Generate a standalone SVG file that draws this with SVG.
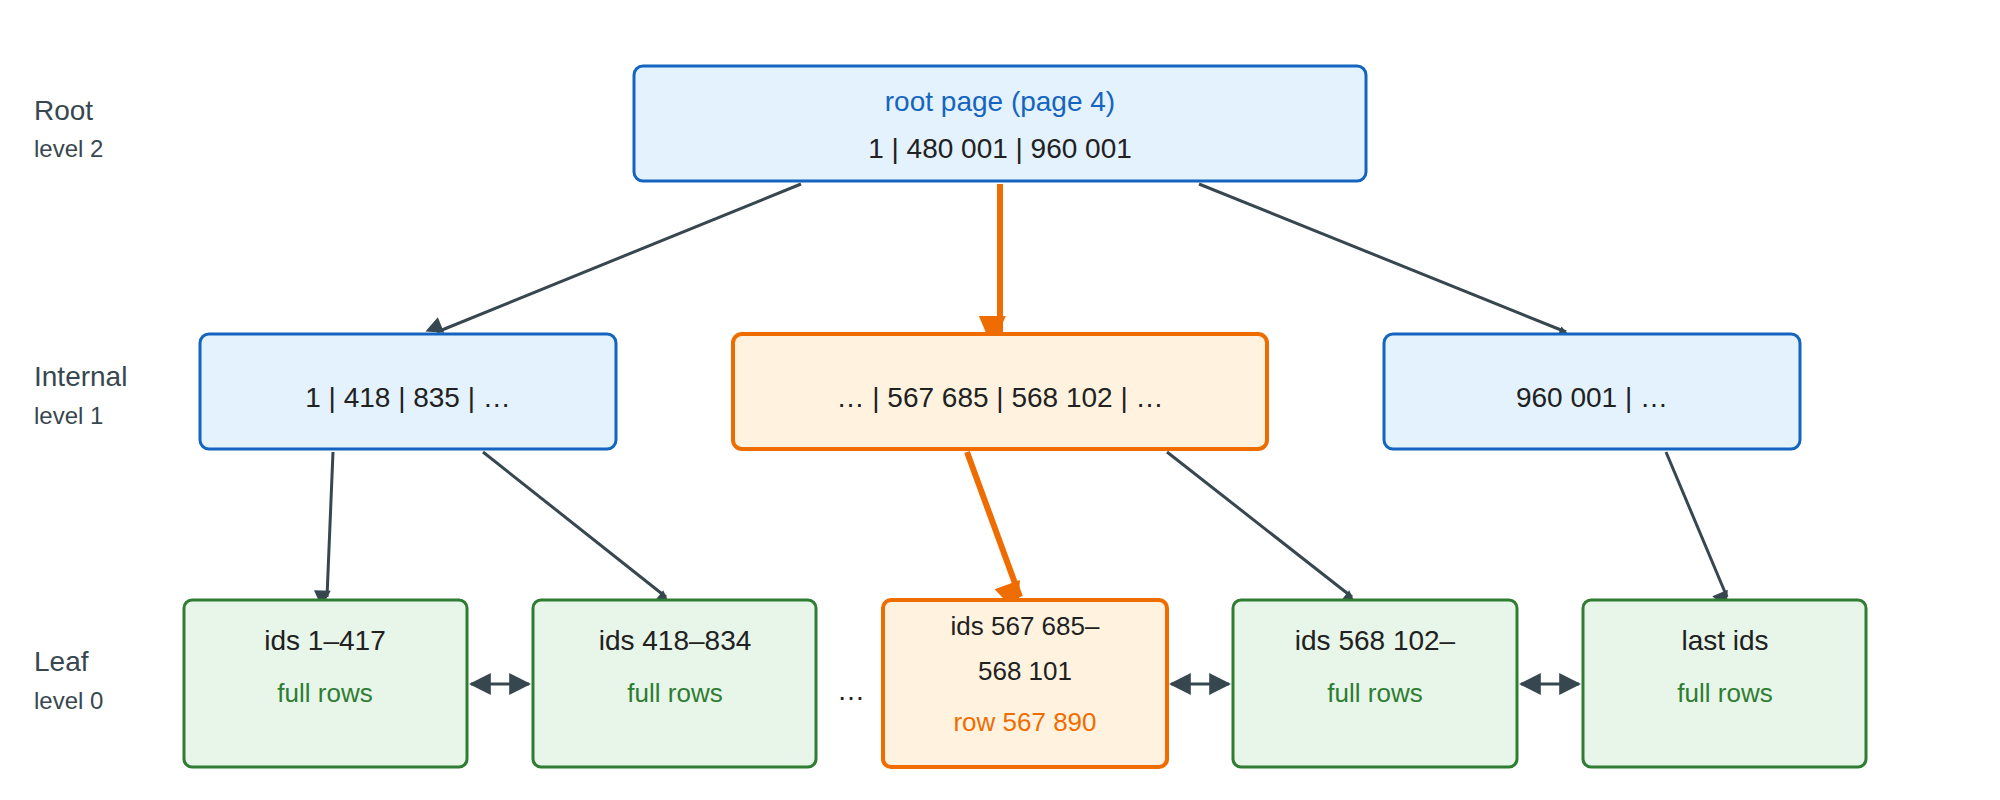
<svg xmlns="http://www.w3.org/2000/svg" width="2000" height="800" viewBox="0 0 2000 800">
<style>
text{font-family:"Liberation Sans",Arial,sans-serif;text-anchor:middle}
.lbl{text-anchor:start;fill:#37474f}
.blue rect{fill:#e3f2fd;stroke:#1565c0;stroke-width:3}
.orange rect{fill:#fff3e0;stroke:#ef6c00;stroke-width:4}
.green rect{fill:#e8f5e9;stroke:#2e7d32;stroke-width:3}
.t{font-size:28px;fill:#212121}
.s{font-size:26px}
.c line{stroke:#37474f;stroke-width:3}
.c line.o{stroke:#ef6c00;stroke-width:6}
</style>
<defs>
<marker id="a" viewBox="0 0 10 10" refX="9" refY="5" markerWidth="7" markerHeight="7" markerUnits="userSpaceOnUse" orient="auto" style="overflow:visible"><path d="M0,0L10,5L0,10z" fill="#37474f" transform="scale(2.4)"/></marker>
<marker id="ao" viewBox="0 0 10 10" refX="10" refY="5" markerWidth="7" markerHeight="7" markerUnits="userSpaceOnUse" orient="auto" style="overflow:visible"><path d="M-4,-1L10,5L-4,11z" fill="#ef6c00" transform="scale(3.2)"/></marker>
<marker id="as" viewBox="0 0 10 10" refX="9" refY="5" markerUnits="userSpaceOnUse" markerWidth="22" markerHeight="22" orient="auto-start-reverse"><path d="M0,0L10,5L0,10z" fill="#37474f"/></marker>
</defs>
<text class="lbl" x="34" y="120" font-size="28">Root</text>
<text class="lbl" x="34" y="157" font-size="24">level 2</text>
<text class="lbl" x="34" y="386" font-size="28">Internal</text>
<text class="lbl" x="34" y="424" font-size="24">level 1</text>
<text class="lbl" x="34" y="671" font-size="28">Leaf</text>
<text class="lbl" x="34" y="709" font-size="24">level 0</text>

<g class="c">
<line x1="801" y1="184" x2="437" y2="332" marker-end="url(#a)"/>
<line class="o" x1="1000" y1="184" x2="1000" y2="332" marker-end="url(#ao)"/>
<line x1="1199" y1="184" x2="1566" y2="332" marker-end="url(#a)"/>
<line x1="333" y1="452" x2="327" y2="597" marker-end="url(#a)"/>
<line x1="483" y1="452" x2="666" y2="597" marker-end="url(#a)"/>
<line class="o" x1="967" y1="452" x2="1020" y2="597" marker-end="url(#ao)"/>
<line x1="1167" y1="452" x2="1352" y2="597" marker-end="url(#a)"/>
<line x1="1666" y1="452" x2="1727" y2="597" marker-end="url(#a)"/>
<line x1="471" y1="684" x2="529" y2="684" marker-start="url(#as)" marker-end="url(#as)"/>
<line x1="1171" y1="684" x2="1229" y2="684" marker-start="url(#as)" marker-end="url(#as)"/>
<line x1="1521" y1="684" x2="1579" y2="684" marker-start="url(#as)" marker-end="url(#as)"/>
</g>

<g id="root" class="blue"><rect x="634" y="66" width="732" height="115" rx="9"/>
<text class="t" x="1000" y="111" style="fill:#1565c0">root page (page 4)</text>
<text class="t" x="1000" y="158">1 | 480 001 | 960 001</text></g>
<g id="int1" class="blue"><rect x="200" y="334" width="416" height="115" rx="9"/>
<text class="t" x="408" y="407">1 | 418 | 835 | …</text></g>
<g id="int2" class="orange"><rect x="733" y="334" width="534" height="115" rx="9"/>
<text class="t" x="1000" y="407">… | 567 685 | 568 102 | …</text></g>
<g id="int3" class="blue"><rect x="1384" y="334" width="416" height="115" rx="9"/>
<text class="t" x="1592" y="407">960 001 | …</text></g>

<g id="leaf1" class="green"><rect x="184" y="600" width="283" height="167" rx="8"/>
<text class="t" x="325" y="650">ids 1–417</text><text class="s" x="325" y="702" fill="#2e7d32">full rows</text></g>
<g id="leaf2" class="green"><rect x="533" y="600" width="283" height="167" rx="8"/>
<text class="t" x="675" y="650">ids 418–834</text><text class="s" x="675" y="702" fill="#2e7d32">full rows</text></g>
<text class="t" x="851" y="700">…</text>
<g id="leaf3" class="orange"><rect x="883" y="600" width="284" height="167" rx="8"/>
<text class="s" x="1025" y="635" fill="#212121">ids 567 685–</text>
<text class="s" x="1025" y="680" fill="#212121">568 101</text>
<text class="s" x="1025" y="731" fill="#ef6c00">row 567 890</text></g>
<g id="leaf4" class="green"><rect x="1233" y="600" width="284" height="167" rx="8"/>
<text class="t" x="1375" y="650">ids 568 102–</text><text class="s" x="1375" y="702" fill="#2e7d32">full rows</text></g>
<g id="leaf5" class="green"><rect x="1583" y="600" width="283" height="167" rx="8"/>
<text class="t" x="1725" y="650">last ids</text><text class="s" x="1725" y="702" fill="#2e7d32">full rows</text></g>
</svg>
